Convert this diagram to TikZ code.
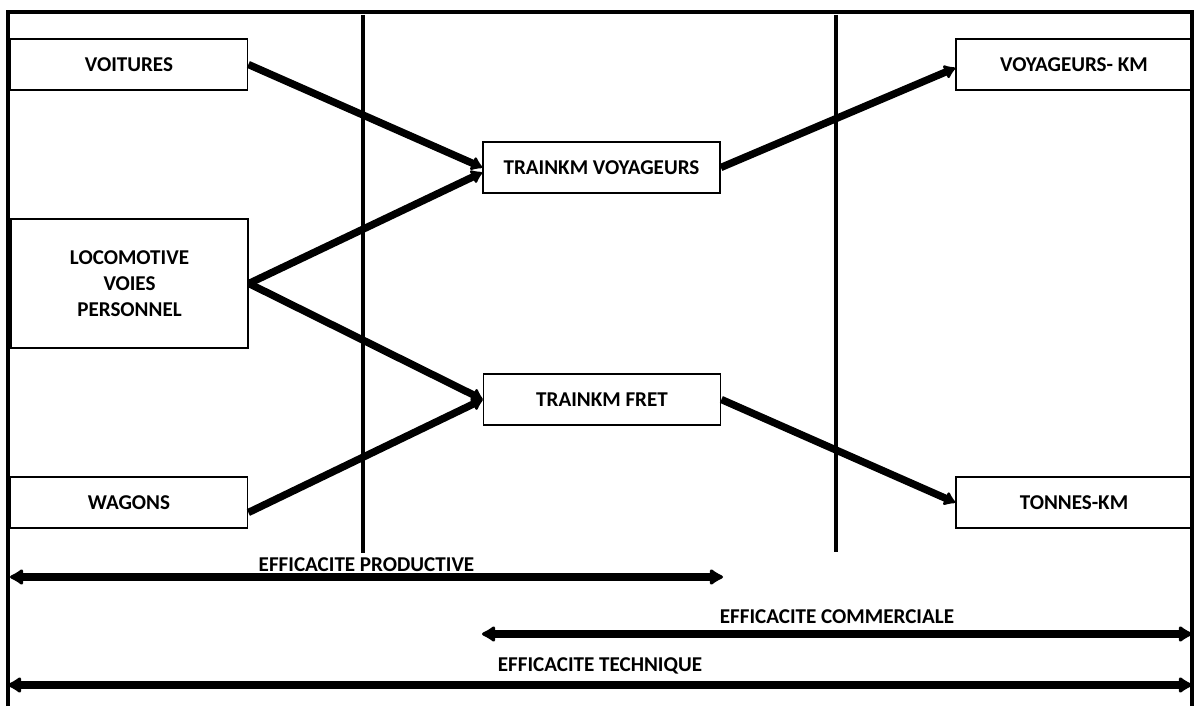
\documentclass[tikz,border=0pt]{standalone}
\usepackage{fontspec}
\setmainfont{Carlito}
\usetikzlibrary{arrows.meta, positioning}

\begin{document}
\begin{tikzpicture}[
    box/.style={draw, line width=1pt, minimum width=4.74cm, minimum height=1.02cm,
        inner sep=0pt, align=center, font=\fontsize{12}{14.8}\selectfont\bfseries},
    link/.style={line width=4.2pt, -{Latex[length=7pt, width=10pt, round]}},
    divider/.style={line width=2.8pt},
    span/.style={line width=4pt, {Latex[length=9pt, width=11pt, round]}-{Latex[length=9pt, width=11pt, round]}},
    lab/.style={font=\fontsize{12}{14}\selectfont\bfseries, inner sep=1pt}
]
    \useasboundingbox (0,0) rectangle (23.94,-14.12);

    % cadre
    \draw[line width=2pt] (0.16,-14.12) |- (23.84,-0.24) -- (23.84,-14.12);

    % séparations
    \draw[divider] (7.26,-0.30) -- (7.26,-11.05);
    \draw[divider] (16.72,-0.30) -- (16.72,-11.03);

    % moyens
    \node[box] (voit) at (2.58, -1.29) {VOITURES};
    \node[box, minimum height=2.58cm] (loco) at (2.59, -5.67) {LOCOMOTIVE\\VOIES\\PERSONNEL};
    \node[box] (wag) at (2.58, -10.05) {WAGONS};

    % production
    \node[box] (tv) at (12.03, -3.35) {TRAINKM VOYAGEURS};
    \node[box] (tf) at (12.04, -7.99) {TRAINKM FRET};

    % consommation
    \node[box, minimum width=4.72cm] (vk) at (21.48, -1.29) {VOYAGEURS- KM};
    \node[box, minimum width=4.72cm] (tk) at (21.48, -10.05) {TONNES-KM};

    \draw[link] (voit.east) -- (tv.west);
    \draw[link] (loco.east) -- ([yshift=-0.1cm]tv.west);
    \draw[link] (loco.east) -- (tf.west);
    \draw[link] ([yshift=-0.2cm]wag.east) -- (tf.west);
    \draw[link] (tv.east) -- ([yshift=-0.07cm]vk.west);
    \draw[link] (tf.east) -- (tk.west);

    % efficacités
    \coordinate (p1) at (0.20, -11.54);
    \coordinate (p2) at (14.46, -11.54);
    \coordinate (c1) at (9.64, -12.68);
    \coordinate (c2) at (23.84, -12.68);
    \coordinate (t1) at (0.16, -13.70);
    \coordinate (t2) at (23.84, -13.70);
    \draw[span] (p1) -- node[lab, above] (lprod) {EFFICACITE PRODUCTIVE} (p2);
    \draw[span] (c1) -- node[lab, above=3pt] (lcomm) {EFFICACITE COMMERCIALE} (c2);
    \draw[span] (t1) -- node[lab, above=3pt] (ltech) {EFFICACITE TECHNIQUE} (t2);
\end{tikzpicture}
\end{document}
